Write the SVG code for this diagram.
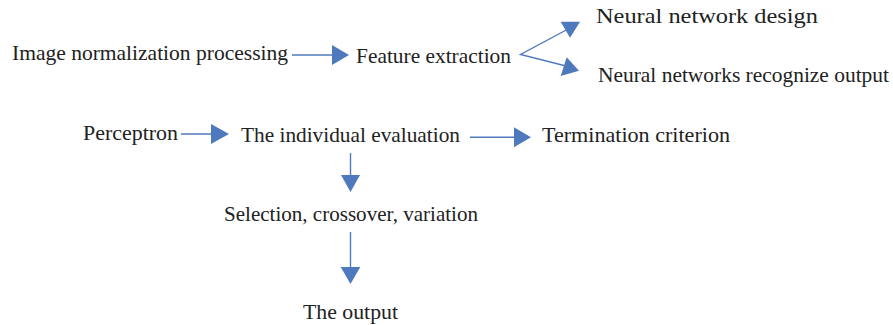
<svg xmlns="http://www.w3.org/2000/svg" width="893" height="325" viewBox="0 0 893 325">
<style>
text{font-family:"Liberation Serif","Times New Roman",serif;font-size:21.5px;fill:#222}
.l{stroke:#4f79bd;stroke-width:1.4;fill:none}
.h{fill:#4f79bd}
</style>
<rect width="893" height="325" fill="#fff"/>
<g id="connectors">
<path class="l" d="M292 55H335"/><polygon class="h" points="332,45 349,55 332,65"/>
<path class="l" d="M570 28L520.5 54.5L570 67"/>
<polygon class="h" points="560.7,21.7 580,21.7 570,37.7"/>
<polygon class="h" points="566.7,57.3 579,70.7 560.7,76"/>
<path class="l" d="M181 134H214"/><polygon class="h" points="211,124 229,134 211,144"/>
<path class="l" d="M470 137.3H517"/><polygon class="h" points="514,127.3 531,137.3 514,147.3"/>
<path class="l" d="M350.5 153V178"/><polygon class="h" points="341,175 360,175 350.5,192"/>
<path class="l" d="M350.5 232V270"/><polygon class="h" points="340.7,267 360.3,267 350.5,284"/>
</g>
<g id="n1"><text x="12" y="60" textLength="276" lengthAdjust="spacingAndGlyphs">Image normalization processing</text></g>
<g id="n2"><text x="356" y="63" textLength="155" lengthAdjust="spacingAndGlyphs">Feature extraction</text></g>
<g id="n3"><text x="596" y="23" textLength="222" lengthAdjust="spacingAndGlyphs">Neural network design</text></g>
<g id="n4"><text x="598" y="82" textLength="291" lengthAdjust="spacingAndGlyphs">Neural networks recognize output</text></g>
<g id="n5"><text x="83" y="140" textLength="95" lengthAdjust="spacingAndGlyphs">Perceptron</text></g>
<g id="n6"><text x="241" y="142" textLength="219" lengthAdjust="spacingAndGlyphs">The individual evaluation</text></g>
<g id="n7"><text x="542" y="142" textLength="188" lengthAdjust="spacingAndGlyphs">Termination criterion</text></g>
<g id="n8"><text x="224" y="221" textLength="254" lengthAdjust="spacingAndGlyphs">Selection, crossover, variation</text></g>
<g id="n9"><text x="303" y="319" textLength="95" lengthAdjust="spacingAndGlyphs">The output</text></g>
</svg>
